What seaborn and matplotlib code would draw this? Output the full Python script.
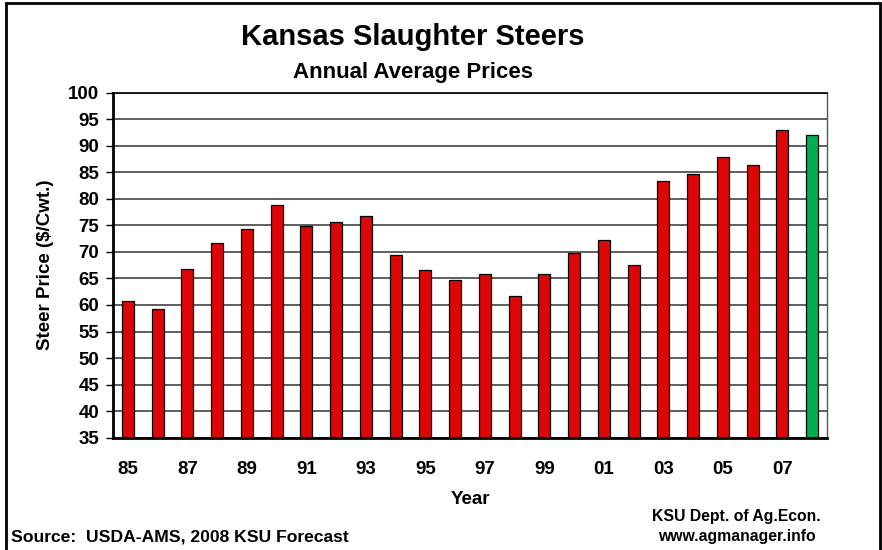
import matplotlib
matplotlib.use("Agg")
import matplotlib.pyplot as plt
import seaborn as sns
import pandas as pd
from matplotlib.patches import Rectangle

# Annual average prices, $/cwt (2008 = KSU forecast)
years = ["85", "86", "87", "88", "89", "90", "91", "92", "93", "94", "95", "96",
         "97", "98", "99", "00", "01", "02", "03", "04", "05", "06", "07", "08"]
prices = [60.7, 59.3, 66.8, 71.6, 74.4, 78.9, 74.9, 75.7, 76.8, 69.4, 66.5, 64.8,
          65.8, 61.7, 65.8, 69.8, 72.2, 67.6, 83.4, 84.6, 87.9, 86.3, 93.0, 92.0]
bar_colors = ["#DD0606"] * 23 + ["#00B050"]
tick_labels = ["85", "87", "89", "91", "93", "95", "97", "99", "01", "03", "05", "07"]

df = pd.DataFrame({"Year": years, "Price": prices})

sns.set_style("white")
plt.rcParams["font.family"] = ["Liberation Sans", "DejaVu Sans"]
plt.rcParams["font.weight"] = "bold"
for k in ["text.color", "axes.labelcolor", "xtick.color", "ytick.color"]:
    plt.rcParams[k] = "black"

fig = plt.figure(figsize=(8.82, 5.5), dpi=100)
ax = fig.add_axes([0.1281, 0.2042, 0.8095, 0.6273])

sns.barplot(data=df, x="Year", y="Price", hue="Year", palette=bar_colors,
            legend=False, width=0.4, edgecolor="black", linewidth=0.9,
            saturation=1, ax=ax)

ax.set_ylim(35, 100)
ax.set_xlim(-0.5, len(years) - 0.5)
ax.set_yticks(range(35, 101, 5))
ax.yaxis.grid(True, color="#333333", linewidth=1.1)
ax.set_axisbelow(True)

# labels every other year, tick marks between the pairs
ax.set_xticks(range(0, len(years), 2))
ax.set_xticklabels(tick_labels)
ax.set_xticks([i - 0.5 for i in range(0, len(years) + 1, 2)], minor=True)
ax.tick_params(axis="x", which="major", length=0, pad=17, labelsize=13.5)
ax.tick_params(axis="x", which="minor", direction="inout", length=9,
               width=1, color="#333333")
ax.tick_params(axis="y", which="major", direction="out", length=5, width=1,
               color="black", labelsize=13.5, left=True, pad=5)

for s in ["left", "bottom"]:
    ax.spines[s].set_color("black")
    ax.spines[s].set_linewidth(2)
ax.spines["right"].set_color("#555555")
ax.spines["right"].set_linewidth(1)
ax.spines["top"].set_color("black")
ax.spines["top"].set_linewidth(1.2)

ax.set_xlabel("Year", fontsize=13.5, fontweight="bold", labelpad=9)
ax.set_ylabel("Steer Price ($/Cwt.)", fontsize=13.5, fontweight="bold", labelpad=10)

fig.text(0.468, 0.933, "Kansas Slaughter Steers", ha="center", va="center",
         fontsize=21, fontweight="bold")
fig.text(0.468, 0.869, "Annual Average Prices", ha="center", va="center",
         fontsize=16, fontweight="bold")
fig.text(0.012, 0.024, "Source:  USDA-AMS, 2008 KSU Forecast", ha="left",
         va="center", fontsize=12.6, fontweight="bold")
fig.text(0.835, 0.06, "KSU Dept. of Ag.Econ.", ha="center", va="center",
         fontsize=11.3, fontweight="bold")
fig.text(0.835, 0.024, "www.agmanager.info", ha="center", va="center",
         fontsize=11.3, fontweight="bold")

fig.patches.append(Rectangle((6 / 882, -0.05), 874 / 882, 1 - 3 / 550 + 0.05,
                             transform=fig.transFigure, fill=False,
                             edgecolor="black", linewidth=2))

fig.savefig("out.png", dpi=100)
